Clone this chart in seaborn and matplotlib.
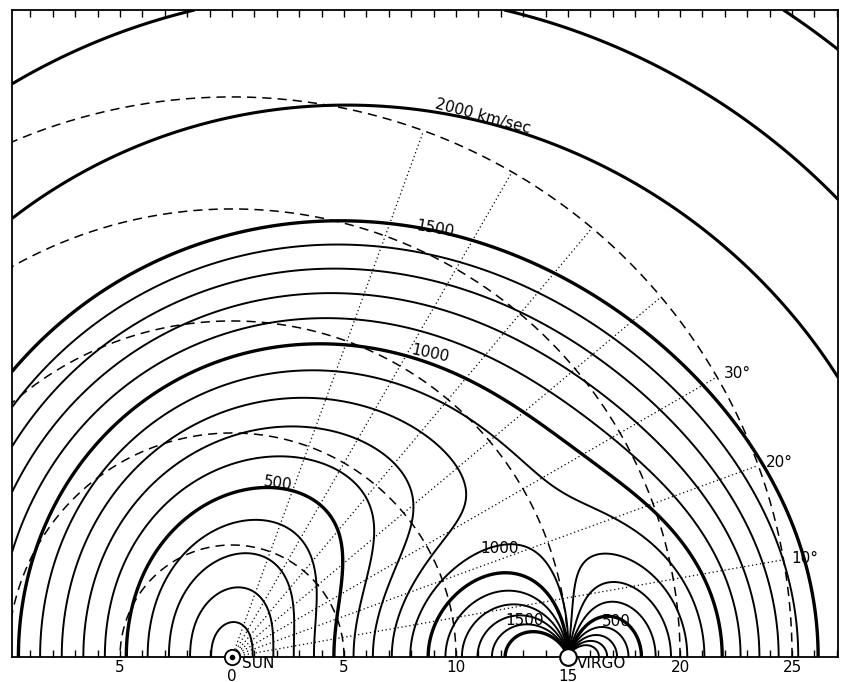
import numpy as np
import pandas as pd
import seaborn as sns
import matplotlib
matplotlib.use('Agg')
from matplotlib import pyplot as plt

# infall model (distances in Mpc, sun at 0, virgo at 15)
virgo_dist = 15.0
hubble = 98.0
infall_lg = 510.0
infall_slope = 0.28

thin_levels = [100, 200, 300, 400, 600, 700, 800, 900, 1100, 1200, 1300, 1400]
bold_levels = [500, 1000, 1500]
far_levels = [2000, 2500, 3000]
circle_radii = [5, 10, 15, 20, 25]
ray_angles = [10, 20, 30, 40, 50, 60, 70]
ray_labels = ['10°', '20°', '30°']
tick_pos = [-5, 5, 10, 20, 25]
tick_text = ['5', '5', '10', '20', '25']

# contour labels: text, x, y, rotation
contour_labels = [
    ('500', 2.05, 7.75, -8),
    ('1000', 8.85, 13.55, -12),
    ('1500', 9.05, 19.1, -10),
    ('2000 km/sec', 11.2, 24.15, -15),
    ('1000', 11.95, 4.85, 0),
    ('1500', 13.05, 1.65, 0),
    ('500', 17.15, 1.6, 0),
]

xlim = (-9.82, 27.05)
ylim = (0, 28.88)

sns.set_style('ticks')
plt.rcParams['font.family'] = ['DejaVu Sans']
plt.rcParams['text.color'] = 'black'
plt.rcParams['xtick.color'] = 'black'
plt.rcParams['xtick.labelcolor'] = 'black'

fig = plt.figure(figsize=(8.43, 6.82), dpi=100)
ax = fig.add_axes([12 / 843, 25 / 682, 826 / 843, 647 / 682])

# velocity field in the plane through sun and virgo
xs = np.linspace(xlim[0], xlim[1], 1100)
ys = np.linspace(ylim[0], ylim[1], 870)
X, Y = np.meshgrid(xs, ys)
r = np.hypot(X, Y) + 1e-6
dx, dy = virgo_dist - X, -Y
d = np.hypot(dx, dy) + 1e-6
u = infall_lg * (virgo_dist / d) ** infall_slope
V = hubble * r + u * (dx * X + dy * Y) / (d * r) - infall_lg * X / r
V_far = np.ma.masked_where(d < 3, V)

ax.contour(X, Y, V, levels=thin_levels, colors='black', linewidths=1.4)
ax.contour(X, Y, V, levels=bold_levels, colors='black', linewidths=2.4)
ax.contour(X, Y, V_far, levels=far_levels, colors='black', linewidths=2.2)

# dashed distance circles round the sun
for rad in circle_radii:
    th = np.linspace(0, np.pi, 400)
    circ = pd.DataFrame({'x': rad * np.cos(th), 'y': rad * np.sin(th)})
    sns.lineplot(data=circ, x='x', y='y', sort=False, color='black', lw=1.1,
                 ax=ax, linestyle=(0, (6, 4)))

# dotted rays from the sun
for ang in ray_angles:
    a = np.deg2rad(ang)
    ray = pd.DataFrame({'x': [0, 25 * np.cos(a)], 'y': [0, 25 * np.sin(a)]})
    sns.lineplot(data=ray, x='x', y='y', sort=False, color='black', lw=0.9,
                 ax=ax, linestyle=(0, (1, 2.2)))

for lab, ang in zip(ray_labels, ray_angles):
    a = np.deg2rad(ang)
    ax.text(25.35 * np.cos(a), 25.35 * np.sin(a), lab, fontsize=11,
            ha='left', va='center', color='black')

for lab, x, y, rot in contour_labels:
    ax.text(x, y, lab, fontsize=11, ha='center', va='center', rotation=rot,
            rotation_mode='anchor', color='black')

# sun and virgo markers
ax.plot([0], [0], marker='o', ms=11, mfc='white', mec='black', mew=1.3,
        clip_on=False, zorder=10)
ax.plot([0], [0], marker='o', ms=3, color='black', clip_on=False, zorder=11)
ax.plot([virgo_dist], [0], marker='o', ms=12, mfc='white', mec='black',
        mew=1.5, clip_on=False, zorder=10)

ax.text(0.45, -0.3, 'SUN', fontsize=11, ha='left', va='center', color='black')
ax.text(virgo_dist + 0.4, -0.3, 'VIRGO', fontsize=11, ha='left', va='center',
        color='black')
ax.text(0, -0.85, '0', fontsize=11, ha='center', va='center', color='black')
ax.text(virgo_dist, -0.85, '15', fontsize=11, ha='center', va='center',
        color='black')

ax.set_xlim(*xlim)
ax.set_ylim(*ylim)
ax.set_aspect('equal')
ax.set_xticks(tick_pos)
ax.set_xticklabels(tick_text, fontsize=11)
ax.set_xticks(range(-9, 28), minor=True)
ax.tick_params(axis='x', which='both', direction='in', top=True,
               length=5, width=1.0, pad=2, colors='black')
ax.set_yticks([])
ax.set_xlabel('')
ax.set_ylabel('')
for sp in ax.spines.values():
    sp.set_linewidth(1.3)
    sp.set_color('black')
    sp.set_visible(True)

fig.savefig('out.png', dpi=100)
